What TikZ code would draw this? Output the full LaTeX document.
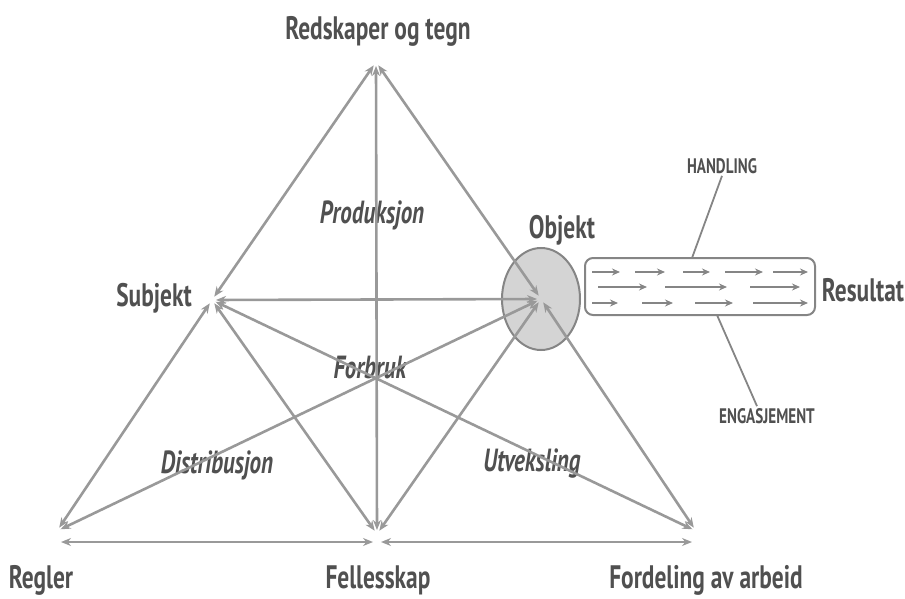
\documentclass[tikz,border=0pt]{standalone}
\usepackage{fontspec}
\setmainfont{PT Sans}[FakeStretch=0.72]
\usetikzlibrary{calc,positioning,arrows.meta,shapes}
\definecolor{txtgray}{HTML}{505050}
\definecolor{lngray}{HTML}{999999}
\definecolor{boxgray}{HTML}{858585}
\definecolor{objfill}{HTML}{D4D4D4}

\begin{document}
\begin{tikzpicture}[x=1pt,y=-1pt]
\tikzstyle{lbl}=[text=txtgray, font=\fontsize{32.5}{34}\selectfont\bfseries, inner sep=2pt]
\tikzstyle{tema}=[text=txtgray, font=\fontsize{32}{34}\selectfont\bfseries\itshape, inner sep=2pt]
\tikzstyle{small}=[text=txtgray, font=\fontsize{21}{23}\selectfont\bfseries, inner sep=2pt]
\tikzstyle{lnk}=[{Stealth[length=10pt,width=8pt]}-{Stealth[length=10pt,width=8pt]}, draw=lngray, line width=2.6pt, shorten <=4pt, shorten >=4pt]
\tikzstyle{flow}=[-{Stealth[length=8pt,width=7pt]}, draw=boxgray, line width=2.2pt]
\useasboundingbox (0,0) rectangle (905,599);
% corners of the triangle
\coordinate (T) at (376,62);
\coordinate (S) at (212,300);
\coordinate (O) at (541,299);
\coordinate (R) at (57,531);
\coordinate (F) at (377,534);
\coordinate (D) at (696,531);
\node[ellipse, draw=boxgray, fill=objfill, line width=2pt, minimum width=78pt, minimum height=102pt] (oval) at (O) {};
% texts
\node[lbl] (redskap) at (378,31) {Redskaper og tegn};
\node[lbl] (subj) at (154,298) {Subjekt};
\node[lbl] (obj) at (562,230) {Objekt};
\node[lbl] (res) at (863,290) {Resultat};
\node[lbl] (regl) at (41,580) {Regler};
\node[lbl] (fell) at (378,580) {Fellesskap};
\node[lbl] (ford) at (706,580) {Fordeling av arbeid};
\foreach \n/\x/\y/\t in {prod/372/215/Produksjon, forb/370/368/Forbruk, dist/217/465/Distribusjon, utv/532/464/Utveksling}{\node[tema] (\n) at (\x,\y) {\t};}
% relations
\foreach \i/\j in {T/S,T/O,T/F,S/O,S/R,S/F,S/D,O/F,O/R,O/D}{\draw[lnk] (\i) -- (\j);}
\draw[lnk] ([yshift=-11pt]R) -- ([yshift=-8pt]F);
\draw[lnk] ([yshift=-8pt]F) -- ([yshift=-11pt]D);
% action towards result
\node[draw=boxgray, line width=2pt, rounded corners=8pt, minimum width=230pt, minimum height=57pt] (box) at (700,286.5) {};
\foreach \y/\a/\b in {272/592/620,272/635/665,272/683/710,272/725/763,272/773/808,
  287/598/647,287/665/727,287/750/800,
  303/592/618,303/642/673,303/695/733,303/753/808}{\draw[flow] (\a,\y) -- (\b,\y);}
\node[small] (hand) at (722,166) {HANDLING};
\node[small] (eng) at (767,416) {ENGASJEMENT};
\coordinate (hb) at (692,258);
\coordinate (eb) at (717,315);
\draw[boxgray, line width=1.8pt] (hb) -- (hand.south);
\draw[boxgray, line width=1.8pt] (eb) -- ([xshift=-10pt]eng.north);
\end{tikzpicture}
\end{document}
